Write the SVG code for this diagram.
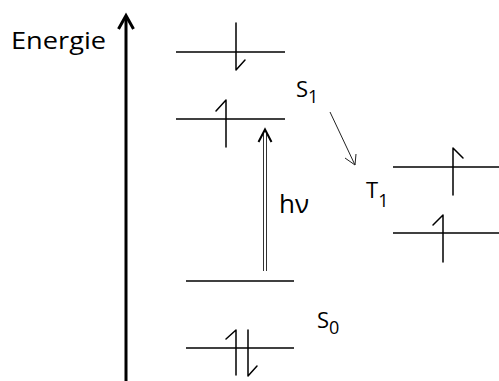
<svg xmlns="http://www.w3.org/2000/svg" width="499" height="381" viewBox="0 0 499 381">
<style>
.lvl{stroke:#000;stroke-width:1.5;fill:none}
.spin{stroke:#000;stroke-width:1.5;fill:none;stroke-linecap:round;stroke-linejoin:round}
.lbl{font-family:"Open Sans","Noto Sans",sans-serif;fill:#000}
</style>
<rect width="499" height="381" fill="#fff"/>
<g id="axis">
<line x1="126" y1="381" x2="126" y2="17" stroke="#000" stroke-width="3"/>
<polyline points="118.5,29 126,15.5 133.5,29" fill="none" stroke="#000" stroke-width="3" stroke-linejoin="miter"/>
<text class="lbl" x="11" y="49" font-size="24" textLength="95" lengthAdjust="spacingAndGlyphs">Energie</text>
</g>
<g id="S1-upper">
<line class="lvl" x1="176" y1="52" x2="285" y2="52"/>
<polyline class="spin" points="236,23 236,70 245,60"/>
</g>
<g id="S1-lower">
<line class="lvl" x1="176" y1="119" x2="285" y2="119"/>
<polyline class="spin" points="226,147 226,100 216,111"/>
</g>
<g id="S1-label">
<text class="lbl" x="296" y="97" font-size="22">S<tspan font-size="18" dy="6">1</tspan></text>
</g>
<g id="S0-upper">
<line class="lvl" x1="186" y1="281" x2="294" y2="281"/>
</g>
<g id="S0-lower">
<line class="lvl" x1="186" y1="348" x2="294" y2="348"/>
<polyline class="spin" points="236,375 236,330 226,339"/>
<polyline class="spin" points="248,330 248,376 257,366"/>
</g>
<g id="S0-label">
<text class="lbl" x="317" y="328" font-size="22">S<tspan font-size="18" dy="6">0</tspan></text>
</g>
<g id="T1-upper">
<line class="lvl" x1="393" y1="167" x2="499" y2="167"/>
<polyline class="spin" points="453,195 453,148 463,158" stroke-width="2.5"/>
</g>
<g id="T1-lower">
<line class="lvl" x1="393" y1="233" x2="499" y2="233"/>
<polyline class="spin" points="443,262 443,215 433,225"/>
</g>
<g id="T1-label">
<text class="lbl" x="366" y="198" font-size="22">T<tspan font-size="18" dy="9">1</tspan></text>
</g>
<g id="connectors">
<line x1="263.5" y1="131" x2="263.5" y2="271" stroke="#333" stroke-width="1"/>
<line x1="266.5" y1="131" x2="266.5" y2="271" stroke="#333" stroke-width="1"/>
<polyline points="258.5,142 265,129.5 271.5,142" fill="none" stroke="#000" stroke-width="2"/>
<text class="lbl" x="279" y="213" font-size="26">hν</text>
<line x1="330" y1="112" x2="355" y2="165" stroke="#222" stroke-width="1"/>
<polyline points="345,158 355,165 356,154" fill="none" stroke="#222" stroke-width="1"/>
</g>
</svg>
